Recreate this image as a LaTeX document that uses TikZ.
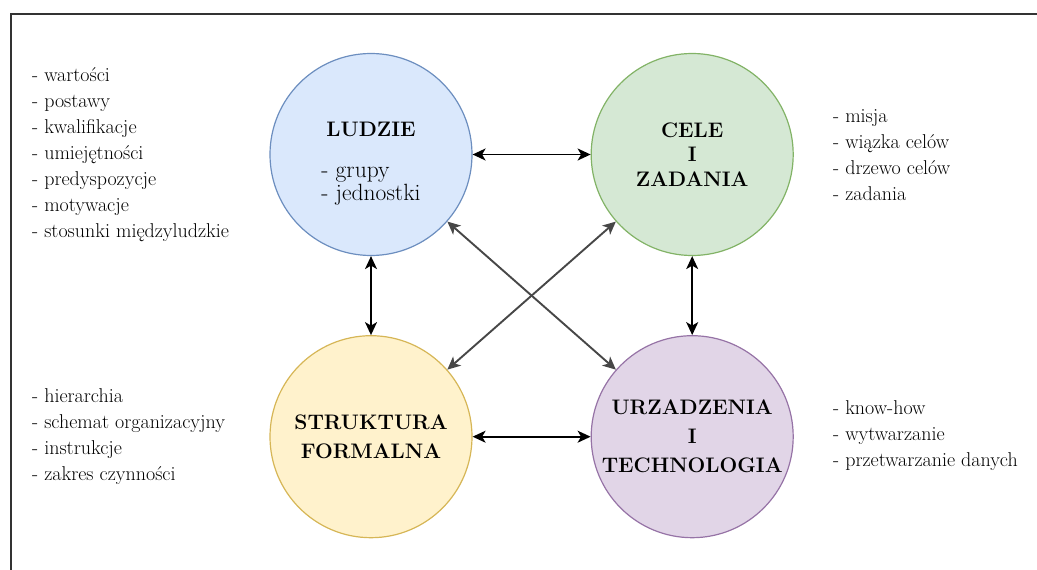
\documentclass[tikz,border=0pt]{standalone}
\usepackage{xcolor}
\usetikzlibrary{arrows.meta,positioning}

\definecolor{peopleFill}{HTML}{DAE8FC}
\definecolor{peopleLine}{HTML}{6C8EBF}
\definecolor{goalsFill}{HTML}{D5E8D4}
\definecolor{goalsLine}{HTML}{82B366}
\definecolor{formFill}{HTML}{FFF2CC}
\definecolor{formLine}{HTML}{D6B656}
\definecolor{techFill}{HTML}{E1D5E7}
\definecolor{techLine}{HTML}{9673A6}

\begin{document}
\begin{tikzpicture}[
  x=1pt, y=-1pt,
  node distance = 79pt and 118pt,
  circ/.style   = {circle, draw, line width=1.2pt, minimum size=202pt, inner sep=0pt,
                   align=center, font=\fontsize{21}{29}\selectfont\bfseries},
  people/.style = {circ, fill=peopleFill, draw=peopleLine},
  goals/.style  = {circ, fill=goalsFill, draw=goalsLine,
                   font=\fontsize{21}{24.5}\selectfont\bfseries},
  form/.style   = {circ, fill=formFill, draw=formLine},
  tech/.style   = {circ, fill=techFill, draw=techLine},
  items/.style  = {anchor=west, align=left, inner sep=0pt,
                   font=\fontsize{20}{26}\selectfont},
  arrow/.style  = {{Stealth[length=13pt,width=12pt,inset=3.5pt]}-{Stealth[length=13pt,width=12pt,inset=3.5pt]},
                   line width=1.6pt},
  cross/.style  = {arrow, draw=black!72, line width=1.9pt}
]
  \useasboundingbox (0,0) rectangle (1037,570);
  \draw[line width=2pt, black!80] (11,570) -- (11,13.5) -- (1037,13.5);

  \node[people] (ludzie) at (371,154.5) {\rule{0pt}{35pt}LUDZIE\\[12pt]
    {\fontsize{23.5}{23}\selectfont\mdseries\begin{tabular}[t]{@{}l@{}}- grupy\\- jednostki\end{tabular}}};
  \node[goals, right=of ludzie]  (cele)       {CELE\\I\\ZADANIA};
  \node[form, below=of ludzie]   (struktura)  {STRUKTURA\\FORMALNA};
  \node[tech, below=of cele]     (urzadzenia) {URZADZENIA\\I\\TECHNOLOGIA};

  \node[items] (ludzieList) at (32,155) {- wartości\\- postawy\\- kwalifikacje\\- umiejętności\\- predyspozycje\\- motywacje\\- stosunki międzyludzkie};
  \node[items] (celeList) at (833,155) {- misja\\- wiązka celów\\- drzewo celów\\- zadania};
  \node[items] (strukturaList) at (32,437) {- hierarchia\\- schemat organizacyjny\\- instrukcje\\- zakres czynności};
  \node[items] (urzadzeniaList) at (833,436) {- know-how\\- wytwarzanie\\- przetwarzanie danych};

  \foreach \a/\b in {ludzie/cele,ludzie/struktura,cele/urzadzenia,struktura/urzadzenia}
    \draw[arrow] (\a) -- (\b);
  \foreach \a/\b in {ludzie/urzadzenia,cele/struktura}
    \draw[cross] (\a) -- (\b);
\end{tikzpicture}
\end{document}
